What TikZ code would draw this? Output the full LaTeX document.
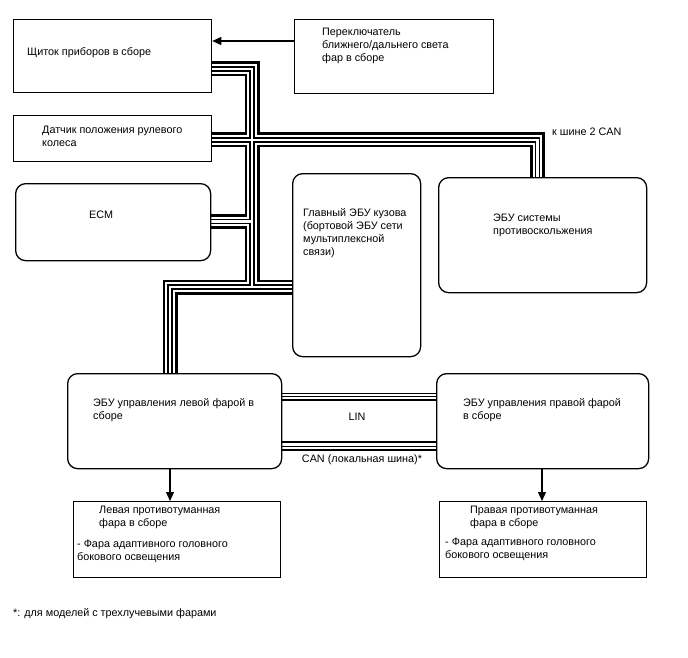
\documentclass[tikz,border=0pt]{standalone}
\usepackage{fontspec}
\setmainfont{Liberation Sans}
\usetikzlibrary{positioning,backgrounds,arrows.meta}

\begin{document}
\begin{tikzpicture}[
    x=1pt, y=-1pt,
    every node/.style={font=\fontsize{10.8}{13}\selectfont},
    box/.style={rectangle, draw, line width=1.3pt, inner sep=0pt, anchor=north west},
    rbox/.style={box, rounded corners=10pt},
    txt/.style={inner sep=0pt, align=left, anchor=north west},
    arrow/.style={-{Triangle[length=9pt, width=8pt]}, line width=1.1pt},
    bus/.style={line width=15pt, postaction={draw=white, line width=9.6pt},
        postaction={draw=black, line width=5.2pt}, postaction={draw=white, line width=2.6pt}}
]
\useasboundingbox (0,0) rectangle (688,658);

% Row 1: panel and switch
\node[box, minimum width=198, minimum height=73] (panel) at (13,19) {};
\node[txt, below right=28.5pt and 14pt of panel.north west] (panel-txt) {Щиток приборов в сборе};

\node[box, minimum width=199, minimum height=74] (switch) at (294,19) {};
\node[txt, below right=8.8pt and 28pt of switch.north west] (switch-txt) {
    Переключатель \\
    ближнего/дальнего света \\
    фар в сборе
};

% Row 2: sensor
\node[box, minimum width=198, minimum height=46] (sensor) at (13,115) {};
\node[txt, below right=11pt and 29pt of sensor.north west] (sensor-txt) {
    Датчик положения рулевого \\
    колеса
};

% Row 3: ECM, body ECU, slip control ECU
\node[rbox, minimum width=195, minimum height=77] (ecm) at (15,183) {};
\node[txt, below right=27.5pt and 74pt of ecm.north west] (ecm-txt) {ECM};

\node[rbox, minimum width=128, minimum height=183] (body) at (292,173) {};
\node[txt, below right=35.5pt and 11pt of body.north west] (body-txt) {
    Главный ЭБУ кузова \\
    (бортовой ЭБУ сети \\
    мультиплексной \\
    связи)
};

\node[rbox, minimum width=208, minimum height=115] (slip) at (438,177) {};
\node[txt, below right=36.5pt and 55pt of slip.north west] (slip-txt) {
    ЭБУ системы \\
    противоскольжения
};

% Row 4: headlight ECUs
\node[rbox, minimum width=214, minimum height=95] (lecu) at (67,373) {};
\node[txt, below right=25.5pt and 26pt of lecu.north west] (lecu-txt) {
    ЭБУ управления левой фарой в \\
    сборе
};

\node[rbox, minimum width=212, minimum height=95] (recu) at (436,373) {};
\node[txt, below right=25.5pt and 27pt of recu.north west] (recu-txt) {
    ЭБУ управления правой фарой \\
    в сборе
};

% Row 5: fog lamps
\node[box, minimum width=207, minimum height=76] (lfog) at (73,501) {};
\node[txt, below right=4.5pt and 26pt of lfog.north west] (lfog-txt) {
    Левая противотуманная \\
    фара в сборе
};
\node[txt, below right=38.5pt and 4pt of lfog.north west] (lfog-sub) {
    - Фара адаптивного головного \\
    бокового освещения
};

\node[box, minimum width=207, minimum height=76] (rfog) at (439,501) {};
\node[txt, below right=4.5pt and 31pt of rfog.north west] (rfog-txt) {
    Правая противотуманная \\
    фара в сборе
};
\node[txt, below right=36.5pt and 6pt of rfog.north west] (rfog-sub) {
    - Фара адаптивного головного \\
    бокового освещения
};

% Bus labels and note
\node[txt] (can2) at (552,127.5) {к шине 2 CAN};
\node (lin) at (357,417) {LIN};
\node (can) at (362,460) {CAN (локальная шина)*};
\node[txt] (note) at (13,608.5) {*: для моделей с трехлучевыми фарами};

% Arrows
\draw[arrow] (switch.west |- 0,41) -- (panel.east |- 0,41);
\draw[arrow] (lecu.south -| 170,0) -- (lfog.north -| 170,0);
\draw[arrow] (recu.south -| 542,0) -- (rfog.north -| 542,0);

% LIN and local CAN wires
\foreach \yy/\ww in {393.5/1.1, 396.5/1.1, 400/2.7, 442/2.7, 446.8/1.1, 450/1.1}
    \draw[line width=\ww pt] (lecu.east |- 0,\yy) -- (recu.west |- 0,\yy);

% Main CAN bus
\coordinate (jA) at (252,69);
\coordinate (jX) at (252,140);
\coordinate (jE) at (252,221.5);
\coordinate (jD) at (252,287);
\coordinate (jL) at (170,287);
\coordinate (jS) at (537.5,140);
\begin{scope}[on background layer]
    \draw[bus] (panel.east |- jA) -- (jA) -- (jD)
        (sensor.east |- jX) -- (jS) -- (jS |- slip.north)
        (ecm.east |- jE) -- (jE)
        (lecu.north -| jL) -- (jL) -- (jL -| body.west);
\end{scope}

\end{tikzpicture}
\end{document}
